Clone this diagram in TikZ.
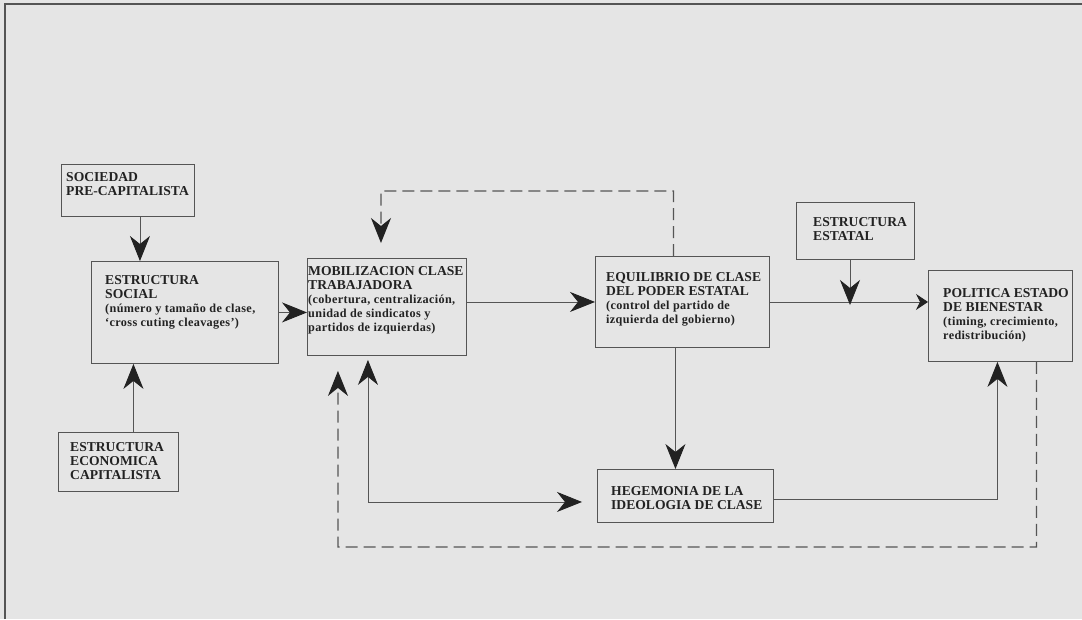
\documentclass[tikz,border=0pt]{standalone}
\usepackage{fontspec}
\setmainfont{Liberation Serif}
\definecolor{PaperGray}{HTML}{E5E5E5}
\definecolor{InkGray}{HTML}{555555}
\definecolor{InkDark}{HTML}{222222}
\usetikzlibrary{arrows.meta,positioning}
\tikzset{
  box/.style={draw=InkGray, line width=0.9pt, anchor=north west, inner sep=0pt},
  txt/.style={anchor=north west, align=left, inner sep=0pt, text=InkDark, font=\fontsize{13.6}{14}\selectfont\bfseries},
  arrow/.style={-{Stealth[length=25pt,width=20pt,inset=8pt,color=InkDark]}, line width=0.9pt, InkGray},
  twoway/.style={{Stealth[length=25pt,width=20pt,inset=8pt,color=InkDark]}-{Stealth[length=25pt,width=20pt,inset=8pt,color=InkDark]}, line width=0.9pt, InkGray},
  dasharrow/.style={arrow, line width=1.2pt, dash pattern=on 12pt off 6pt}
}
\newcommand{\subtxt}[1]{{\fontsize{12.2}{13.4}\selectfont\addfontfeature{LetterSpace=3}#1}}

\begin{document}
\begin{tikzpicture}[x=1pt, y=-1pt]
    \fill[PaperGray] (0,0) rectangle (1082,619);
    \useasboundingbox (0,0) rectangle (1082,619);
    \draw[InkGray, line width=1.2pt] (5,619) -- (5,4) -- (1082,4);

    % boxes
    \node[box, minimum width=133pt, minimum height=52pt] (soc) at (61,164) {};
    \node[box, minimum width=187pt, minimum height=102pt] (social) at (91,261) {};
    \node[box, minimum width=120pt, minimum height=59pt] (econ) at (58,432) {};
    \node[box, minimum width=159pt, minimum height=97pt] (mobil) at (307,258) {};
    \node[box, minimum width=174pt, minimum height=91pt] (equil) at (595,256) {};
    \node[box, minimum width=118pt, minimum height=57pt] (estatal) at (796,202) {};
    \node[box, minimum width=144pt, minimum height=91pt] (politica) at (928,270) {};
    \node[box, minimum width=176pt, minimum height=53pt] (hegem) at (597,469) {};

    % texts
    \node[txt] (soctxt) at ([shift={(5,8)}]soc.north west) {SOCIEDAD\\PRE-CAPITALISTA};
    \node[txt] (socialtxt) at ([shift={(14,14)}]social.north west) {ESTRUCTURA\\SOCIAL\\\subtxt{(número y tamaño de clase,}\\\subtxt{`cross cuting cleavages')}};
    \node[txt] (econtxt) at ([shift={(12,10)}]econ.north west) {ESTRUCTURA\\ECONOMICA\\CAPITALISTA};
    \node[txt] (mobiltxt) at ([shift={(1,8)}]mobil.north west) {MOBILIZACION CLASE\\TRABAJADORA\\\subtxt{(cobertura, centralización,}\\\subtxt{unidad de sindicatos y}\\\subtxt{partidos de izquierdas)}};
    \node[txt] (equiltxt) at ([shift={(11,16)}]equil.north west) {EQUILIBRIO DE CLASE\\DEL PODER ESTATAL\\\subtxt{(control del partido de}\\\subtxt{izquierda del gobierno)}};
    \node[txt] (estataltxt) at ([shift={(17,15)}]estatal.north west) {ESTRUCTURA\\ESTATAL};
    \node[txt] (politicatxt) at ([shift={(15,18)}]politica.north west) {POLITICA ESTADO\\DE BIENESTAR\\\subtxt{(timing, crecimiento,}\\\subtxt{redistribución)}};
    \node[txt] (hegemtxt) at ([shift={(14,17)}]hegem.north west) {HEGEMONIA DE LA\\IDEOLOGIA DE CLASE};

    \coordinate (join) at (850,303);

    % connectors
    \draw[arrow] ([xshift=12pt]soc.south) -- ([xshift=12pt]soc.south |- social.north);
    \draw[arrow] ([xshift=15pt]econ.north) -- ([xshift=15pt]econ.north |- social.south);
    \draw[arrow] (social.east) -- (social.east -| mobil.west);
    \draw[arrow] (equil.west -| mobil.east) -- (equil.west);
    \draw[-{Stealth[length=12pt,width=16pt,inset=4pt,color=InkDark]}, line width=0.9pt, InkGray] (equil.west -| equil.east) -- (equil.west -| politica.west);
    \draw[arrow] (estatal.south -| join) -- ([yshift=-2pt]join);
    \draw[arrow] ([xshift=-7pt]equil.south) -- ([xshift=-7pt]equil.south |- hegem.north);
    \draw[arrow] ([yshift=-3pt]hegem.east) -| ([xshift=-3pt]politica.south);
    \draw[twoway, shorten <=15pt, shorten >=4pt] ([yshift=-6pt]hegem.west) -| ([xshift=-19pt]mobil.south);
    \draw[dasharrow, shorten >=15pt] ([xshift=-9pt]equil.north) |- (381,191) -- ([xshift=-6pt]mobil.north);
    \draw[dasharrow, shorten >=15pt] ([xshift=36pt]politica.south) |- (338,547) -- ([xshift=-49pt]mobil.south);
\end{tikzpicture}
\end{document}
